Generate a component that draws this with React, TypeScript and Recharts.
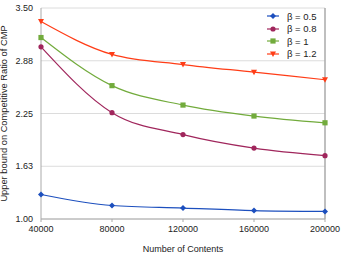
import {
  CartesianGrid,
  Line,
  LineChart,
  ReferenceLine,
  XAxis,
  YAxis,
} from 'recharts'

const contents = [40000, 80000, 120000, 160000, 200000]
const beta05 = [1.29, 1.16, 1.13, 1.1, 1.09]
const beta08 = [3.04, 2.26, 2.0, 1.84, 1.75]
const beta10 = [3.15, 2.58, 2.35, 2.22, 2.14]
const beta12 = [3.34, 2.95, 2.83, 2.74, 2.65]

const seriesNames = ['β = 0.5', 'β = 0.8', 'β = 1', 'β = 1.2']
const seriesKeys = ['b05', 'b08', 'b10', 'b12']
const seriesColors = ['#1c4fbe', '#a0265c', '#72ab3c', '#ff3d17']
const seriesShapes = ['diamond', 'circle', 'square', 'triangle']

const yTicks = [1, 1.625, 2.25, 2.875, 3.5]
const yTickLabels = ['1.00', '1.63', '2.25', '2.88', '3.50']

const data = contents.map((n, i) => ({
  n,
  b05: beta05[i],
  b08: beta08[i],
  b10: beta10[i],
  b12: beta12[i],
}))

const FONT = '"Liberation Sans", Arial, sans-serif'

const Marker = ({ cx, cy, shape, color }: { cx: number; cy: number; shape: string; color: string }) => {
  if (shape === 'diamond') {
    return <polygon points={`${cx},${cy - 3} ${cx + 3},${cy} ${cx},${cy + 3} ${cx - 3},${cy}`} fill={color} />
  }
  if (shape === 'circle') {
    return <circle cx={cx} cy={cy} r={2.6} fill={color} />
  }
  if (shape === 'square') {
    return <rect x={cx - 2.6} y={cy - 2.6} width={5.2} height={5.2} fill={color} />
  }
  return <polygon points={`${cx - 3},${cy - 2.5} ${cx + 3},${cy - 2.5} ${cx},${cy + 3}`} fill={color} />
}

const makeDot = (i: number) => (props: any) => {
  const { cx, cy, index } = props
  if (cx == null || cy == null) return <g key={index} />
  return (
    <g key={index}>
      <Marker cx={cx} cy={cy} shape={seriesShapes[i]} color={seriesColors[i]} />
    </g>
  )
}

// legend sits inside the plot, top right, so it is drawn as an overlay
function ChartLegend() {
  return (
    <div
      style={{
        position: 'absolute',
        left: 266,
        top: 10,
        fontFamily: FONT,
        fontSize: 9.5,
        color: '#222',
      }}
    >
      {seriesNames.map((name, i) => (
        <div key={name} style={{ display: 'flex', alignItems: 'center', height: 12.5 }}>
          <svg width={14} height={10} style={{ marginRight: 7 }}>
            <line x1={1} y1={5} x2={13} y2={5} stroke={seriesColors[i]} strokeWidth={1.2} />
            <Marker cx={7} cy={5} shape={seriesShapes[i]} color={seriesColors[i]} />
          </svg>
          <span>{name}</span>
        </div>
      ))}
    </div>
  )
}

export default function App() {
  return (
    <div style={{ position: 'absolute', left: 0, top: 0, width: 342, height: 256, background: '#fff' }}>
      <LineChart
        width={342}
        height={256}
        data={data}
        margin={{ top: 8, right: 17, left: 0, bottom: 0 }}
      >
        <CartesianGrid vertical={false} stroke="#dcdcdc" />
        <XAxis
          dataKey="n"
          type="number"
          domain={[40000, 200000]}
          ticks={contents}
          height={37}
          stroke="#aaa"
          tickSize={3}
          tickMargin={4}
          tick={{ fontSize: 9, fill: '#222', fontFamily: FONT }}
          label={{
            value: 'Number of Contents',
            position: 'insideBottom',
            offset: 4,
            style: { fontSize: 9, fill: '#222', fontFamily: FONT },
          }}
        />
        <YAxis
          domain={[1, 3.5]}
          ticks={yTicks}
          width={41}
          stroke="#aaa"
          tickLine={false}
          tickSize={0}
          tickMargin={8}
          tickFormatter={(v: number) => yTickLabels[yTicks.indexOf(v)] ?? String(v)}
          tick={{ fontSize: 9, fill: '#222', fontFamily: FONT }}
          label={{
            value: 'Upper bound on Competitive Ratio of CMP',
            angle: -90,
            position: 'insideLeft',
            offset: 4,
            style: { fontSize: 9.3, fill: '#222', fontFamily: FONT, textAnchor: 'middle' },
          }}
        />
        <ReferenceLine x={200000} stroke="#aaa" strokeWidth={1.5} />
        {seriesKeys.map((key, i) => (
          <Line
            key={key}
            type="monotone"
            dataKey={key}
            name={seriesNames[i]}
            stroke={seriesColors[i]}
            strokeWidth={1.2}
            dot={makeDot(i)}
            activeDot={false}
            isAnimationActive={false}
          />
        ))}
      </LineChart>
      <ChartLegend />
    </div>
  )
}
